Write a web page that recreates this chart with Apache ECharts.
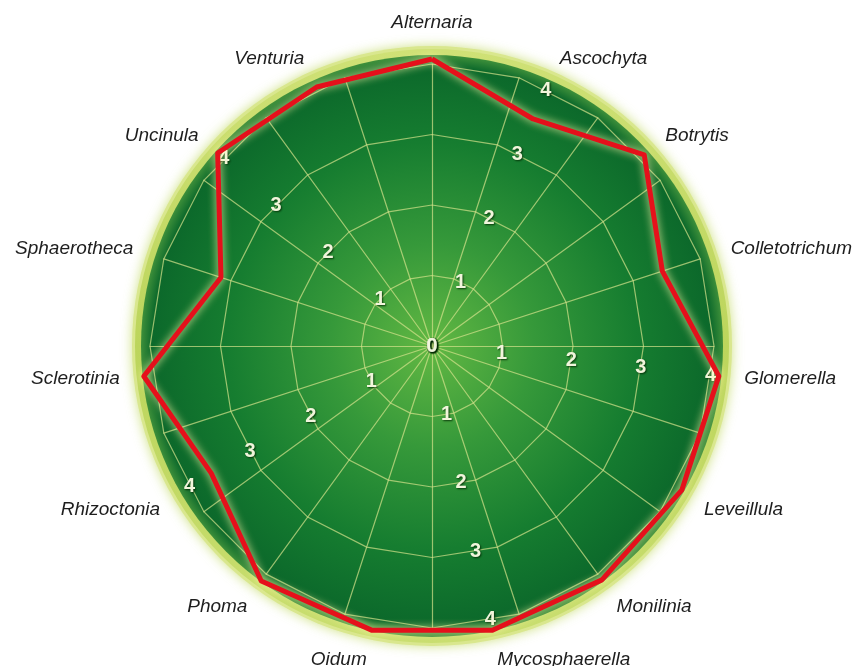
<!DOCTYPE html>
<html>
<head>
<meta charset="utf-8">
<script src="https://cdn.jsdelivr.net/npm/echarts@6/dist/echarts.min.js"></script>
<style>
html,body{margin:0;padding:0;background:#fff;}
#chart{width:862px;height:666px;}
</style>
</head>
<body>
<div id="chart"></div>
<script>
// Indicators in clockwise order, starting at the top
const categories = ['Alternaria','Ascochyta','Botrytis','Colletotrichum','Glomerella','Leveillula','Monilinia','Mycosphaerella','Oidum','Phoma','Rhizoctonia','Sclerotinia','Sphaerotheca','Uncinula','Venturia'];
const values = [4.1, 3.55, 4.08, 3.46, 4.12, 4.12, 4.13, 4.15, 4.15, 4.15, 3.64, 4.14, 3.17, 4.12, 4.05];
// axes that carry the scale numbers
const labelledAxes = ['Ascochyta','Uncinula','Rhizoctonia','Mycosphaerella','Glomerella'];
const tickLabels = [0, 1, 2, 3, 4];

const CX = 432, CY = 346;
const n = categories.length;
// ECharts radar runs counter-clockwise: reverse so the reference's clockwise order holds
const ccwIdx = [0].concat(Array.from({length: n - 1}, (_, i) => n - 1 - i));
const indicators = ccwIdx.map(i => ({ name: categories[i], min: 0, max: 4.2 }));
const seriesValues = ccwIdx.map(i => values[i]);

const firstLabelled = categories.indexOf(labelledAxes[0]);
const labelStart = 90 - firstLabelled * 360 / n;

// names on the lower half sit a little lower in the reference
function isLower(name) {
  const i = categories.indexOf(name);
  const a = i * 360 / n;
  return a >= 115 && a < 250;
}

const gridSpokes = 20;

const chart = echarts.init(document.getElementById('chart'), null, {renderer: 'canvas'});
chart.setOption({
  animation: false,
  graphic: [
    { type: 'circle', z: -10, shape: {cx: CX, cy: CY, r: 300},
      style: { fill: '#d9e78e', shadowBlur: 12, shadowColor: 'rgba(190,215,90,0.75)' } },
    { type: 'circle', z: -9, shape: {cx: CX, cy: CY, r: 297},
      style: { fill: new echarts.graphic.LinearGradient(0, 0, 0, 1, [
        {offset: 0, color: '#cfe176'}, {offset: 0.5, color: '#bcd55c'}, {offset: 1, color: '#c9de70'}]) } },
    { type: 'circle', z: -8, shape: {cx: CX, cy: CY, r: 291},
      style: { fill: new echarts.graphic.RadialGradient(0.5, 0.5, 0.5, [
        {offset: 0, color: '#62b843'},
        {offset: 0.35, color: '#36993a'},
        {offset: 0.7, color: '#167d30'},
        {offset: 0.96, color: '#0c692b'},
        {offset: 1, color: '#3d8f3a'}]) } }
  ],
  radar: [
    { // background web
      center: [CX, CY], radius: 282, startAngle: 90, shape: 'polygon', splitNumber: 4,
      indicator: Array.from({length: gridSpokes}, () => ({ name: '', min: 0, max: 4 })),
      axisName: { show: false },
      axisLine: { lineStyle: { color: 'rgba(214,226,140,0.7)', width: 1.2 } },
      splitLine: { lineStyle: { color: 'rgba(214,226,140,0.7)', width: 1.2 } },
      splitArea: { show: false }
    },
    { // main indicators
      center: [CX, CY], radius: 294, startAngle: 90, shape: 'circle', splitNumber: 4,
      indicator: indicators,
      nameGap: 20,
      axisName: {
        color: '#1e1e1e', fontFamily: 'Liberation Sans', fontStyle: 'italic', fontSize: 19,
        formatter: function (name) { return isLower(name) ? '{lo|' + name + '}' : name; },
        rich: { lo: { color: '#1e1e1e', fontFamily: 'Liberation Sans', fontStyle: 'italic', fontSize: 19, padding: [14, 0, 0, 0] } }
      },
      axisLine: { show: false },
      splitLine: { show: false },
      splitArea: { show: false }
    },
    { // scale labels
      center: [CX, CY], radius: 280, startAngle: labelStart, shape: 'circle', splitNumber: tickLabels.length - 1,
      indicator: labelledAxes.map(() => ({ name: '', min: tickLabels[0], max: tickLabels[tickLabels.length - 1] })),
      axisName: { show: false },
      axisLine: { show: false },
      splitLine: { show: false },
      splitArea: { show: false },
      axisTick: { show: false },
      axisLabel: {
        show: true, margin: 0, align: 'center', verticalAlign: 'middle',
        color: '#f1f5dc', fontFamily: 'Liberation Sans', fontWeight: 'bold', fontSize: 20,
        textShadowColor: 'rgba(0,40,0,0.85)', textShadowBlur: 2, textShadowOffsetX: 1, textShadowOffsetY: 1
      }
    }
  ],
  series: [{
    type: 'radar', radarIndex: 1, symbol: 'none', z: 5,
    lineStyle: { color: '#e5101b', width: 5, shadowColor: 'rgba(255,250,170,0.9)', shadowBlur: 9 },
    data: [{ value: seriesValues, name: 'Efficacy' }]
  }]
});
</script>
</body>
</html>
